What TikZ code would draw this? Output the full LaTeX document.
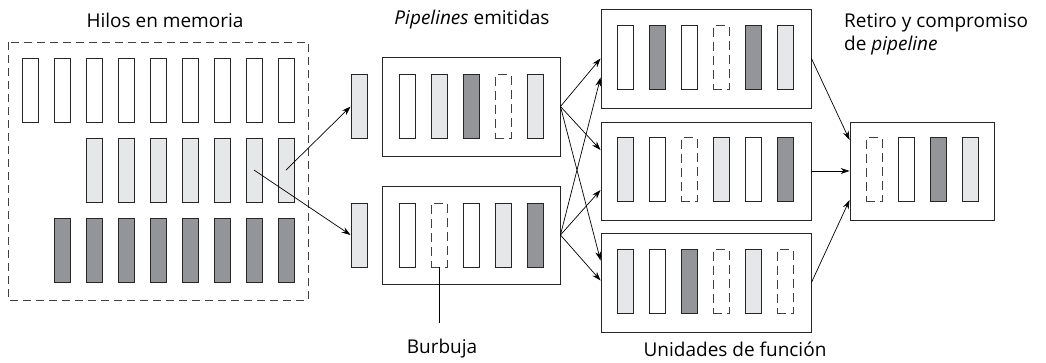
\documentclass[tikz,border=0pt]{standalone}
\usepackage{fontspec}
\setmainfont{Open Sans}
\usetikzlibrary{arrows.meta,calc}
\definecolor{lgray}{HTML}{E6E7E8}
\definecolor{dgray}{HTML}{939598}
\tikzset{
  slot/.style={draw=black!85,line width=0.9pt,minimum width=16pt,minimum height=64pt,inner sep=0pt},
  wslot/.style={slot,fill=white},
  lslot/.style={slot,fill=lgray},
  dslot/.style={slot,fill=dgray},
  eslot/.style={slot,dash pattern=on 9pt off 5pt,draw=black!75},
  unitbox/.style={draw=black!85,line width=0.9pt,inner sep=0pt},
  link/.style={line width=0.7pt,-{Stealth[length=9pt,width=6pt]}},
  lbl/.style={font=\fontsize{19}{23}\selectfont,inner sep=0pt}
}
\begin{document}
\begin{tikzpicture}[x=1pt,y=-1pt]
  \useasboundingbox (0,0) rectangle (1046,362);
  % threads in memory
  \draw[line width=0.8pt,black!75,dash pattern=on 8pt off 5pt] (8,42) rectangle (308,300);
  \node[lbl] (hilos) at (165,20) {Hilos en memoria};
  \foreach \i in {1,...,9}
    \node[wslot] (ha\i) at (30+32*\i-32,90) {};
  \foreach \i in {3,...,9}
    \node[lslot] (hb\i) at (30+32*\i-32,170) {};
  \foreach \i in {2,...,9}
    \node[dslot] (hc\i) at (30+32*\i-32,250) {};
  % issued pipelines
  \node[lbl] (emit) at (472,20) {\textit{Pipelines} emitidas};
  \node[lslot] (s1) at (359,106.5) {};
  \node[lslot] (s2) at (359,235) {};
  \node[unitbox,minimum width=178pt,minimum height=99pt] (p1) at (471,106.5) {};
  \node[unitbox,minimum width=178pt,minimum height=98pt] (p2) at (471,235) {};
  \foreach \t [count=\i] in {wslot,lslot,dslot,eslot,lslot}
    \node[\t] (pa\i) at (407+32*\i-32,106.5) {};
  \foreach \t [count=\i] in {wslot,eslot,wslot,lslot,dslot}
    \node[\t] (pb\i) at (407+32*\i-32,235) {};
  \draw[link] (hb9.center) -- (s1.west);
  \draw[link] (hb8.center) -- (s2.west);
  % bubble
  \coordinate (bb) at (439,323);
  \draw[line width=0.7pt] (pb2.south) -- (bb);
  \node[lbl] (burbuja) at (442,349) {Burbuja};
  % function units
  \node[unitbox,minimum width=210pt,minimum height=99pt] (fu1) at (706,58.5) {};
  \node[unitbox,minimum width=210pt,minimum height=98pt] (fu2) at (706,171) {};
  \node[unitbox,minimum width=210pt,minimum height=99pt] (fu3) at (706,282.5) {};
  \foreach \t [count=\i] in {wslot,dslot,wslot,eslot,dslot,lslot}
    \node[\t] (fa\i) at (625+32*\i-32,57.5) {};
  \foreach \t [count=\i] in {lslot,wslot,eslot,lslot,wslot,dslot}
    \node[\t] (fb\i) at (625+32*\i-32,169.5) {};
  \foreach \t [count=\i] in {lslot,wslot,dslot,eslot,lslot,eslot}
    \node[\t] (fc\i) at (625+32*\i-32,281.5) {};
  \node[lbl] (unid) at (735,349) {Unidades de función};
  \draw[link] (p1.east) -- (fu1.west);
  \draw[link] (p1.east) -- ($(fu2.west)+(0,-21)$);
  \draw[link] (p1.east) -- ($(fu3.west)+(0,-22)$);
  \draw[link] (p2.east) -- ($(fu1.west)+(0,19)$);
  \draw[link] (p2.east) -- ($(fu2.west)+(0,19)$);
  \draw[link] (p2.east) -- ($(fu3.west)+(0,-2)$);
  % retire and commit
  \node[unitbox,minimum width=144pt,minimum height=98pt] (ret) at (922,171) {};
  \foreach \t [count=\i] in {eslot,wslot,dslot,lslot}
    \node[\t] (ra\i) at (874+32*\i-32,169.5) {};
  \node[lbl,anchor=west,align=left] (retiro) at (844,34) {Retiro y compromiso\\ de \textit{pipeline}};
  \draw[link] (fu1.east) -- ($(ret.west)+(0,-31)$);
  \draw[link] (fu2.east) -- (ret.west);
  \draw[link] (fu3.east) -- ($(ret.west)+(0,29)$);
\end{tikzpicture}
\end{document}
